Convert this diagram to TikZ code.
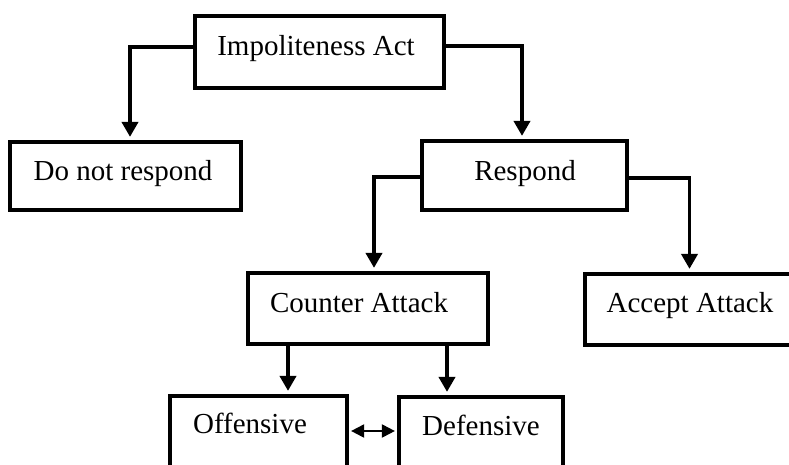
\documentclass[tikz,border=0pt]{standalone}
\usepackage{fontspec}
\setmainfont{Liberation Serif}
\usetikzlibrary{arrows.meta}
\begin{document}
\begin{tikzpicture}[x=1pt,y=-1pt,
  box/.style={draw, line width=4.2pt, inner sep=0pt, minimum width=#1},
  lbl/.style={anchor=base, inner sep=0pt, font=\fontsize{29}{34}\selectfont},
  conn/.style={line width=3.8pt, -{Triangle[width=16pt,length=15pt]}, shorten >=3pt},
  both/.style={line width=2pt, {Triangle[width=13pt,length=13pt]}-{Triangle[width=13pt,length=13pt]}, shorten <=2pt, shorten >=2pt}]
  \fill[white] (0,0) rectangle (789,464);
  \useasboundingbox (0,0) rectangle (789,464);
  \clip (0,0) rectangle (789,464);

  % boxes
  \node[box=249pt, minimum height=72pt]  (imp)     at (319.5,52)  {};
  \node[box=231pt, minimum height=68pt]  (dnr)     at (125.5,176) {};
  \node[box=205pt, minimum height=69pt]  (resp)    at (524.5,175.5) {};
  \node[box=240pt, minimum height=71pt]  (counter) at (368,308.5) {};
  \node[box=215pt, minimum height=71pt]  (accept)  at (692.5,309.5) {};
  \node[box=177pt, minimum height=104pt] (off)     at (258.5,448) {};
  \node[box=164pt, minimum height=103pt] (def)     at (481,448.5) {};

  % labels
  \node[lbl] (impT)     at (316,55)  {Impoliteness Act};
  \node[lbl] (dnrT)     at (123,180) {Do not respond};
  \node[lbl] (respT)    at (525,180) {Respond};
  \node[lbl] (counterT) at (359,312) {Counter Attack};
  \node[lbl] (acceptT)  at (690,312) {Accept Attack};
  \node[lbl] (offT)     at (250,433) {Offensive};
  \node[lbl] (defT)     at (481,435) {Defensive};

  % connectors
  \draw[conn] ([yshift=5pt]imp.west) -| ([xshift=4.5pt]dnr.north);
  \draw[conn] ([yshift=6pt]imp.east) -| ([xshift=-2.5pt]resp.north);
  \draw[conn] ([yshift=-1.5pt]resp.west) -| ([xshift=6pt]counter.north);
  \draw[conn] ([yshift=-2.5pt]resp.east) -| ([xshift=-3pt]accept.north);
  \coordinate (cl) at ([xshift=-80pt]counter.south);
  \coordinate (cr) at ([xshift=79pt]counter.south);
  \draw[conn] (cl) -- (cl |- off.north);
  \draw[conn] (cr) -- (cr |- def.north);
  \coordinate (dl) at ([yshift=17pt]off.east);
  \draw[both] (dl) -- (dl -| def.west);
\end{tikzpicture}
\end{document}
